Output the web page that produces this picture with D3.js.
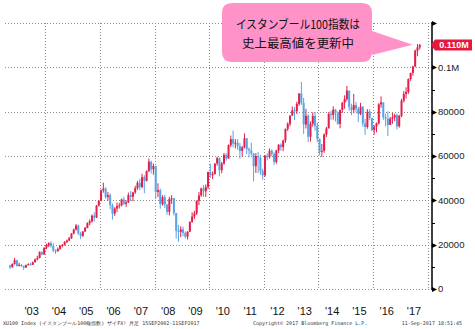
<!DOCTYPE html>
<html lang="ja">
<head>
<meta charset="UTF-8">
<title>XU100 monthly</title>
<script src="https://cdn.jsdelivr.net/npm/d3@7/dist/d3.min.js"></script>
<style>
  body, html { margin: 0; padding: 0; background: #fff; }
  svg { display: block; }
  .grid line { stroke: #8a8a8a; stroke-dasharray: 1,2; shape-rendering: crispEdges; }
  .ytick { font-family: "Liberation Sans", Arial, sans-serif; font-size: 9.5px; fill: #222; }
  .year { font-family: "Liberation Sans", Arial, sans-serif; font-size: 11px; fill: #111; text-anchor: middle; }
  .foot { font-family: "DejaVu Sans Mono", monospace; font-size: 5px; fill: #333; }
  .callout { font-family: "Noto Sans CJK JP", sans-serif; font-size: 12px; fill: #111; text-anchor: middle; }
</style>
</head>
<body>
<svg width="475" height="329"></svg>
<script>
// monthly bars, XU100, from Sep 2002 (values in thousands)
const startYear = 2002, startMonth = 8;
const firstOpen = 10.6;
const closes = [
  9.8, 11.3, 13.0, 10.4,                                              // 2002
  10.9, 10.4, 9.7, 10.8, 11.2, 10.9, 12.1, 13.4, 14.0, 16.6, 15.6, 18.6, // 2003
  19.6, 20.7, 19.4, 17.4, 17.1, 18.1, 19.4, 19.9, 21.2, 21.9, 22.9, 25.0, // 2004
  26.8, 28.6, 25.0, 24.0, 25.9, 27.6, 29.7, 30.5, 33.1, 32.2, 37.6, 39.8, // 2005
  44.5, 45.3, 41.5, 42.3, 37.8, 34.0, 36.3, 37.4, 37.7, 40.4, 38.4, 39.1, // 2006
  42.4, 41.6, 43.6, 45.5, 47.9, 46.0, 50.4, 48.8, 53.2, 57.4, 54.0, 55.5, // 2007
  43.8, 44.6, 38.3, 41.4, 38.0, 34.8, 40.6, 40.9, 34.3, 26.3, 25.8, 26.9, // 2008
  25.3, 23.6, 25.8, 30.3, 32.7, 34.1, 39.8, 42.2, 45.4, 44.1, 46.0, 52.8, // 2009
  51.3, 51.8, 56.6, 59.0, 53.6, 56.6, 60.5, 58.9, 64.9, 67.6, 65.6, 66.0, // 2010
  64.4, 62.3, 63.9, 68.0, 63.1, 62.5, 61.1, 55.4, 60.0, 59.3, 53.2, 51.3, // 2011
  60.1, 59.5, 62.4, 60.9, 57.3, 62.5, 65.1, 64.0, 67.0, 72.2, 74.5, 78.2, // 2012
  80.6, 80.2, 83.5, 88.2, 84.0, 74.2, 78.2, 68.7, 74.5, 78.1, 73.5, 67.8, // 2013
  61.9, 62.3, 69.7, 72.4, 79.0, 78.5, 80.9, 79.4, 74.5, 80.8, 84.0, 85.7, // 2014
  89.5, 82.1, 80.8, 83.0, 81.3, 79.0, 82.2, 74.7, 73.1, 80.0, 77.2, 71.7, // 2015
  73.3, 74.8, 83.3, 84.2, 77.4, 76.8, 74.0, 76.8, 77.4, 78.4, 73.4, 78.1, // 2016
  85.0, 88.0, 88.9, 94.7, 97.5, 100.4, 107.5, 109.0, 110.1                // 2017
];
const highs = [
  10.9, 11.6, 14.0, 13.2,
  11.9, 11.2, 10.6, 11.0, 11.6, 11.8, 12.4, 13.7, 15.0, 17.0, 17.2, 18.8,
  20.4, 21.1, 21.6, 20.6, 17.9, 18.7, 19.9, 20.3, 21.6, 22.3, 23.5, 25.2,
  27.3, 29.3, 29.0, 25.8, 26.2, 28.0, 30.1, 31.4, 33.6, 34.6, 37.9, 40.1,
  44.9, 48.0, 45.9, 43.8, 43.1, 38.6, 36.9, 39.0, 38.9, 40.8, 41.6, 40.0,
  43.5, 44.2, 43.8, 46.6, 48.7, 49.7, 52.0, 51.3, 53.5, 58.9, 57.9, 56.6,
  55.6, 47.7, 45.3, 42.3, 42.5, 38.4, 41.6, 42.3, 41.1, 34.3, 28.9, 28.3,
  28.1, 26.0, 26.1, 30.5, 34.6, 35.3, 39.9, 43.7, 45.7, 46.9, 47.2, 52.9,
  56.5, 53.0, 56.7, 59.7, 59.4, 57.3, 61.4, 61.3, 65.2, 69.2, 71.5, 67.6,
  67.6, 65.9, 64.6, 70.2, 68.1, 63.9, 66.0, 61.3, 61.3, 61.9, 60.5, 54.3,
  60.5, 61.3, 63.4, 63.0, 61.7, 62.8, 65.3, 65.7, 67.4, 72.4, 75.2, 78.4,
  82.3, 82.0, 84.5, 88.3, 93.4, 86.2, 81.3, 78.8, 75.6, 79.7, 79.8, 75.0,
  67.6, 65.4, 70.2, 73.1, 79.7, 80.4, 82.4, 81.2, 80.1, 80.9, 84.4, 87.4,
  91.6, 89.5, 83.6, 88.0, 84.4, 82.2, 84.0, 82.5, 76.7, 81.2, 81.1, 77.1,
  73.9, 75.1, 83.8, 86.9, 84.2, 79.1, 80.2, 77.6, 79.4, 79.1, 79.2, 78.6,
  85.8, 89.3, 91.0, 95.0, 97.5, 100.7, 108.0, 110.5, 110.6
];
const lows = [
  9.0, 9.6, 11.0, 10.1,
  10.2, 10.0, 8.6, 9.5, 10.6, 10.6, 10.8, 11.9, 12.9, 13.8, 15.2, 15.4,
  18.0, 18.9, 18.7, 16.6, 15.8, 16.8, 17.6, 18.8, 19.6, 20.7, 21.6, 22.6,
  24.7, 26.4, 24.5, 22.5, 23.4, 25.8, 27.4, 28.7, 30.0, 30.4, 32.0, 37.2,
  39.6, 43.4, 40.7, 39.9, 36.0, 31.3, 33.0, 34.7, 36.3, 37.3, 37.8, 37.0,
  38.8, 39.7, 39.6, 42.9, 44.8, 44.6, 45.4, 43.2, 48.5, 52.8, 52.1, 51.6,
  40.6, 41.5, 36.2, 37.6, 36.5, 33.5, 33.2, 38.4, 33.2, 22.7, 21.3, 23.4,
  23.8, 22.8, 22.3, 25.7, 29.8, 31.6, 33.4, 37.9, 41.6, 41.6, 41.5, 45.0,
  50.2, 49.5, 51.7, 55.7, 50.8, 52.2, 56.0, 57.9, 58.8, 64.0, 63.9, 63.4,
  62.8, 58.8, 59.7, 63.4, 60.9, 59.4, 60.2, 48.6, 52.4, 52.3, 51.5, 49.3,
  50.6, 58.0, 58.8, 59.9, 56.0, 56.5, 61.3, 62.4, 62.2, 65.9, 71.3, 73.4,
  78.1, 76.2, 78.9, 82.6, 83.0, 70.0, 72.4, 66.3, 66.5, 73.3, 71.4, 66.2,
  60.3, 59.6, 61.4, 68.6, 72.6, 76.3, 76.4, 75.6, 74.1, 72.5, 79.5, 81.3,
  84.7, 80.4, 78.4, 79.3, 79.8, 75.3, 78.4, 73.2, 69.5, 72.3, 76.2, 71.2,
  69.6, 70.7, 74.1, 81.8, 76.3, 73.4, 69.0, 74.2, 74.5, 75.7, 72.0, 72.8,
  77.5, 84.1, 86.0, 88.0, 93.9, 96.2, 100.0, 105.0, 108.0
];
const yTicks = [0, 20000, 40000, 60000, 80000, 100000, 120000];
const yTickLabels = ["0", "20000", "40000", "60000", "80000", "0.1M", ""];
const gridYears = [2004, 2006, 2008, 2010, 2012, 2014, 2016, 2018];
const yearLabels = ["'03", "'04", "'05", "'06", "'07", "'08", "'09", "'10", "'11", "'12", "'13", "'14", "'15", "'16", "'17"];
const lastLabel = "0.110M";
const calloutLines = ["イスタンブール100指数は", "史上最高値を更新中"];
const footLeft = "XU100 Index (イスタンブール100種指数) ザイFX! 月足 15SEP2002-11SEP2017";
const footMid = "Copyright© 2017 Bloomberg Finance L.P.";
const footRight = "11-Sep-2017 18:51:45";

const UP = "#e41e4a", DOWN = "#5aa2e4";

const svg = d3.select("svg");
const plotLeft = 5, axisX = 432, plotTop = 23, plotBottom = 289;

const x = d3.scaleLinear().domain([2004, 2018]).range([45.3, 427.7]);
const y = d3.scaleLinear().domain([0, 120000]).range([plotBottom, plotTop]);

// grid
const grid = svg.append("g").attr("class", "grid");
grid.selectAll(".h").data(yTicks).enter().append("line")
  .attr("x1", plotLeft).attr("x2", axisX)
  .attr("y1", d => Math.round(y(d)) + 0.5).attr("y2", d => Math.round(y(d)) + 0.5);
grid.selectAll(".v").data(gridYears).enter().append("line")
  .attr("x1", d => Math.round(x(d)) + 0.5).attr("x2", d => Math.round(x(d)) + 0.5)
  .attr("y1", plotTop).attr("y2", plotBottom + 1);

// bars
const bars = closes.map((c, i) => {
  const m = startMonth + i;
  const t = startYear + Math.floor(m / 12) + ((m % 12) + 0.5) / 12;
  const o = i === 0 ? firstOpen : closes[i - 1];
  return { t, o: o * 1000, c: c * 1000, h: highs[i] * 1000, l: lows[i] * 1000 };
});
const candles = svg.append("g").selectAll("g").data(bars).enter().append("g")
  .attr("fill", d => d.c >= d.o ? UP : DOWN)
  .attr("stroke", d => d.c >= d.o ? UP : DOWN);
candles.append("line")
  .attr("x1", d => x(d.t)).attr("x2", d => x(d.t))
  .attr("y1", d => y(d.h)).attr("y2", d => y(d.l))
  .attr("stroke-width", 1);
candles.append("rect")
  .attr("stroke", "none")
  .attr("x", d => x(d.t) - 1)
  .attr("width", 2)
  .attr("y", d => y(Math.max(d.o, d.c)))
  .attr("height", d => Math.max(1, Math.abs(y(d.o) - y(d.c))));

// right axis
const ax = svg.append("g");
ax.append("line").attr("x1", axisX).attr("x2", axisX)
  .attr("y1", plotTop - 1).attr("y2", plotBottom + 1)
  .attr("stroke", "#000").attr("stroke-width", 1.5);
ax.selectAll(".minor").data(d3.range(10000, 120000, 20000)).enter().append("line")
  .attr("x1", axisX).attr("x2", axisX + 3)
  .attr("y1", d => Math.round(y(d)) + 0.5).attr("y2", d => Math.round(y(d)) + 0.5)
  .attr("stroke", "#000");
ax.selectAll(".major").data(yTicks).enter().append("path")
  .attr("d", d => { const yy = Math.round(y(d)) + 0.5; return `M${axisX},${yy - 2.5}L${axisX + 5},${yy}L${axisX},${yy + 2.5}Z`; })
  .attr("fill", "#000");
ax.selectAll(".lab").data(yTicks).enter().append("text")
  .attr("class", "ytick")
  .attr("x", axisX + 6).attr("y", d => y(d)).attr("dy", "0.36em")
  .text((d, i) => yTickLabels[i]);

// last value label
const last = bars[bars.length - 1];
const ly = y(last.c);
svg.append("path")
  .attr("d", `M${axisX - 1},${ly}L${axisX + 3},${ly - 5.5}L${axisX + 40},${ly - 5.5}L${axisX + 40},${ly + 5.5}L${axisX + 3},${ly + 5.5}Z`)
  .attr("fill", "#e8173f");
svg.append("text")
  .attr("x", axisX + 22).attr("y", ly).attr("dy", "0.36em")
  .attr("text-anchor", "middle")
  .style("font-family", "Liberation Sans, Arial, sans-serif")
  .style("font-size", "9px").style("font-weight", "bold").style("fill", "#fff")
  .text(lastLabel);

// year labels
svg.selectAll(".year").data(yearLabels).enter().append("text")
  .attr("class", "year")
  .attr("x", (d, i) => x(2003 + i + 0.5))
  .attr("y", 315)
  .text(d => d);

// footer
svg.append("text").attr("class", "foot").attr("x", 3).attr("y", 325).text(footLeft);
svg.append("text").attr("class", "foot").attr("x", 253).attr("y", 325).text(footMid);
svg.append("text").attr("class", "foot").attr("x", 462).attr("y", 325).attr("text-anchor", "end").text(footRight);

// callout
const bx0 = 222, bx1 = 372, by0 = 3, by1 = 62, r = 10;
const tipX = x(last.t) - 7, tipY = y(last.h) + 1;
svg.append("path")
  .attr("d", `M${bx0 + r},${by0}H${bx1 - r}Q${bx1},${by0} ${bx1},${by0 + r}V31L${tipX},${tipY}L${bx1},55V${by1 - r}Q${bx1},${by1} ${bx1 - r},${by1}H${bx0 + r}Q${bx0},${by1} ${bx0},${by1 - r}V${by0 + r}Q${bx0},${by0} ${bx0 + r},${by0}Z`)
  .attr("fill", "#ff93c9");
svg.append("text").attr("class", "callout").attr("x", 298).attr("y", 29)
  .attr("textLength", 124).attr("lengthAdjust", "spacingAndGlyphs").text(calloutLines[0]);
svg.append("text").attr("class", "callout").attr("x", 298).attr("y", 48)
  .attr("textLength", 112).attr("lengthAdjust", "spacingAndGlyphs").text(calloutLines[1]);
</script>
</body>
</html>
